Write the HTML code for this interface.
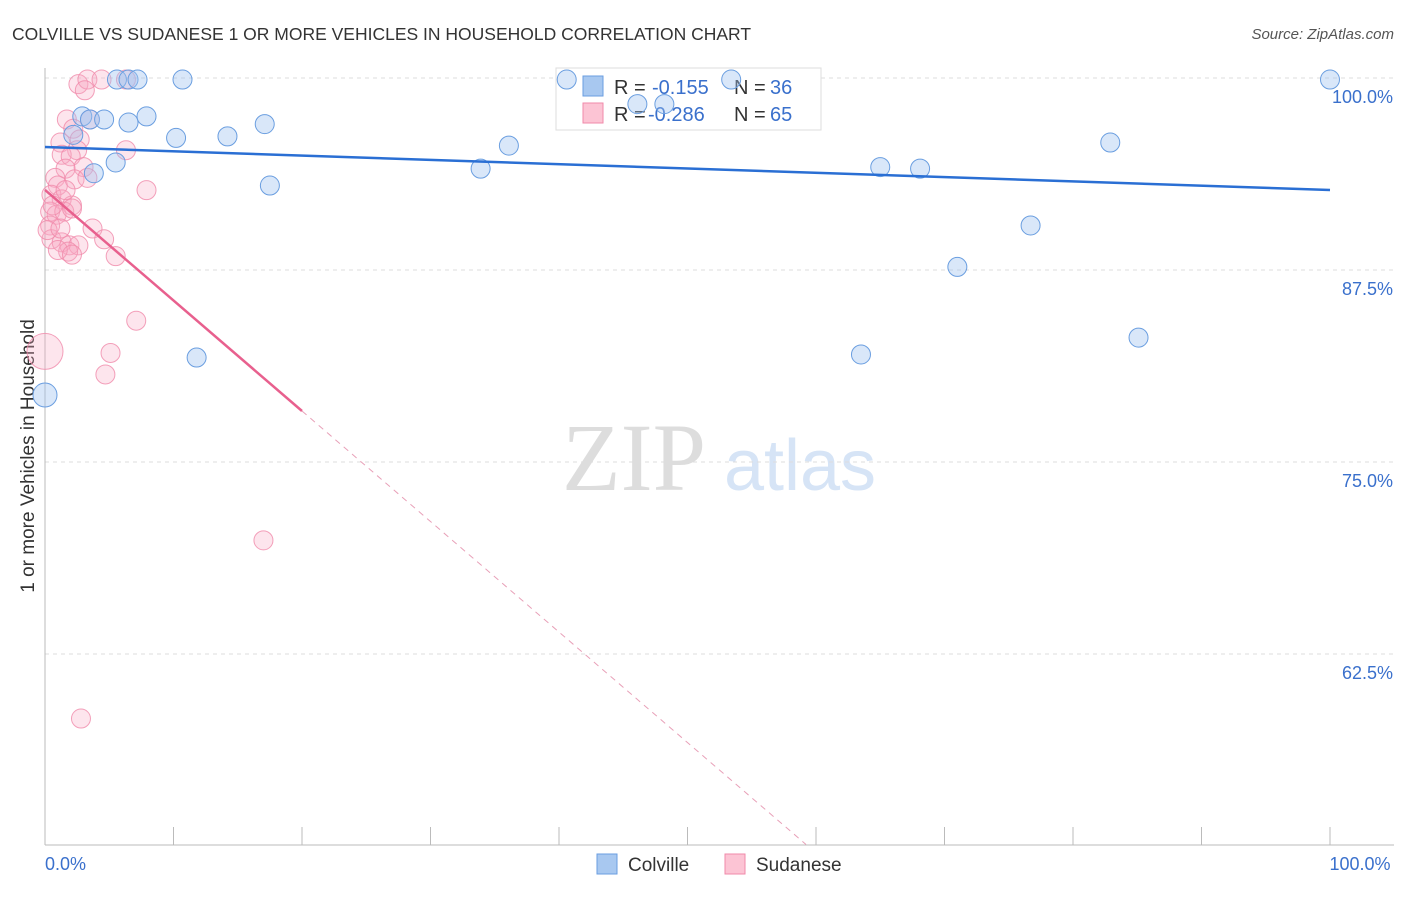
<!DOCTYPE html>
<html><head><meta charset="utf-8"><style>
body{margin:0;background:#fff;font-family:"Liberation Sans",sans-serif}
</style></head><body>
<svg id="c" width="1406" height="892" xmlns="http://www.w3.org/2000/svg">
<text x="12" y="40" font-size="17.5" fill="#333">COLVILLE VS SUDANESE 1 OR MORE VEHICLES IN HOUSEHOLD CORRELATION CHART</text>
<text x="1394" y="39" font-size="15" fill="#555" font-style="italic" text-anchor="end">Source: ZipAtlas.com</text>
<text x="634" y="490" font-size="96" fill="#ddd" font-family="Liberation Serif,serif" text-anchor="middle">ZIP</text>
<text x="800" y="490" font-size="72" fill="#d6e4f6" text-anchor="middle">atlas</text>
<text transform="translate(34,456) rotate(-90)" font-size="19" fill="#333" text-anchor="middle">1 or more Vehicles in Household</text>
<g id="grid"></g>
<g>
<rect x="556" y="68" width="265" height="62" fill="#fff" stroke="#ddd"/>
<rect x="583" y="76" width="20" height="20" fill="#a8c8f0" stroke="#6a9ee0"/>
<rect x="583" y="103" width="20" height="20" fill="#fcc4d4" stroke="#f08aaa"/>
<text x="614" y="94" font-size="20" fill="#333">R =</text><text x="652" y="94" font-size="20" fill="#3a70cc">-0.155</text>
<text x="734" y="94" font-size="20" fill="#333">N =</text><text x="770" y="94" font-size="20" fill="#3a70cc">36</text>
<text x="614" y="121" font-size="20" fill="#333">R =</text><text x="648" y="121" font-size="20" fill="#3a70cc">-0.286</text>
<text x="734" y="121" font-size="20" fill="#333">N =</text><text x="770" y="121" font-size="20" fill="#3a70cc">65</text>
</g>
<g id="marks"></g>
<g>
<rect x="597" y="854" width="20" height="20" fill="#a8c8f0" stroke="#6a9ee0"/>
<text x="628" y="871" font-size="19" fill="#333">Colville</text>
<rect x="725" y="854" width="20" height="20" fill="#fcc4d4" stroke="#f08aaa"/>
<text x="756" y="871" font-size="19" fill="#333">Sudanese</text>
</g>
</svg>
<script>
const yTicks=[100,87.5,75,62.5];
const yTickLabels=["100.0%","87.5%","75.0%","62.5%"];
const xTickLabels=["0.0%","100.0%"];
const colvilleX=[0,5.6,6.5,7.2,10.7,40.6,53.4,100,46.1,48.2,2.9,3.5,4.6,6.5,7.9,10.2,14.2,17.1,17.5,2.2,5.5,3.8,11.8,33.9,36.1,65.0,68.1,82.9,76.7,71.0,63.5,85.1];
const colvilleY=[79.36,99.9,99.9,99.9,99.9,99.9,99.9,99.9,98.3,98.3,97.5,97.3,97.3,97.1,97.5,96.1,96.2,97.0,93.0,96.3,94.5,93.8,81.8,94.1,95.6,94.2,94.1,95.8,90.4,87.7,82.0,83.1];
const sudX=[0,2.6,3.3,4.4,3.1,6.3,1.7,3.5,2.2,1.2,2.7,2.5,1.3,2.0,6.3,7.9,3.0,1.6,0.8,1.0,2.3,3.3,0.5,1.3,2.1,0.4,0.9,1.5,2.1,3.7,4.6,5.5,0.4,0.5,1.3,1.9,2.6,1.8,1.0,2.1,7.1,5.1,4.7,17.0,2.8,0.2,0.6,1.6,1.2];
const sudY=[82.2,99.6,99.9,99.9,99.2,99.9,97.3,97.3,96.7,95.8,96.0,95.3,95.0,94.9,95.3,92.7,94.2,94.1,93.5,93.0,93.4,93.5,92.4,92.1,91.7,91.3,91.1,91.3,91.5,90.2,89.5,88.4,90.4,89.5,89.3,89.1,89.1,88.7,88.8,88.5,84.2,82.1,80.7,69.9,58.3,90.1,91.7,92.7,90.2];
const colvilleTrend=[95.51,92.71];
const sudTrend=[92.71,78.32];
const NS="http://www.w3.org/2000/svg";
const X=v=>45+v*12.85, Y=v=>78+(100-v)*15.36;
function mk(t,a,p){const e=document.createElementNS(NS,t);for(const k in a)e.setAttribute(k,a[k]);p.appendChild(e);return e;}
const g=document.getElementById('grid'),m=document.getElementById('marks');
yTicks.forEach((t,i)=>{const l=mk('line',{x1:45,x2:1394,y1:Y(t),y2:Y(t),stroke:'#ddd','stroke-dasharray':'4,4'},g);


const tx=mk('text',{x:1393,y:Y(t)+25,'font-size':18,fill:'#3a70cc','text-anchor':'end'},g);tx.textContent=yTickLabels[i];

});
const ax=mk('line',{x1:45,x2:45,y1:68,y2:845,stroke:'#bbb'},g);


const bx=mk('line',{x1:45,x2:1394,y1:845,y2:845,stroke:'#bbb'},g);


for(let i=0;i<=10;i++){const t=mk('line',{x1:X(i*10),x2:X(i*10),y1:827,y2:845,stroke:'#bbb'},g);

}
[[0,'start',45],[1,'middle',1360]].forEach(([i,a,x])=>{const t=mk('text',{x:x,y:870,'font-size':18,fill:'#3a70cc','text-anchor':a},g);t.textContent=xTickLabels[i];

});
sudX.forEach((v,i)=>{const c=mk('circle',{cx:X(v),cy:Y(sudY[i]),r:i==0?18:9.5,fill:'rgba(248,170,195,0.3)',stroke:'#f08aaa','stroke-opacity':0.8},m);

});
colvilleX.forEach((v,i)=>{const c=mk('circle',{cx:X(v),cy:Y(colvilleY[i]),r:i==0?12:9.5,fill:'rgba(160,196,240,0.4)',stroke:'#6a9ee0'},m);

});
const bl=mk('line',{x1:X(0),y1:Y(colvilleTrend[0]),x2:X(100),y2:Y(colvilleTrend[1]),stroke:'#2a6fd4','stroke-width':2.5},m);


const pl=mk('line',{x1:X(0),y1:Y(sudTrend[0]),x2:X(20),y2:Y(sudTrend[1]),stroke:'#e8608e','stroke-width':2.5},m);


const slope=(sudTrend[1]-sudTrend[0])/20, xe=(50.1-sudTrend[0])/slope;
const pd=mk('line',{x1:X(20),y1:Y(sudTrend[1]),x2:X(xe),y2:Y(50.1),stroke:'#e8a0b8','stroke-width':1,'stroke-dasharray':'6,5'},m);


</script>
</body></html>
